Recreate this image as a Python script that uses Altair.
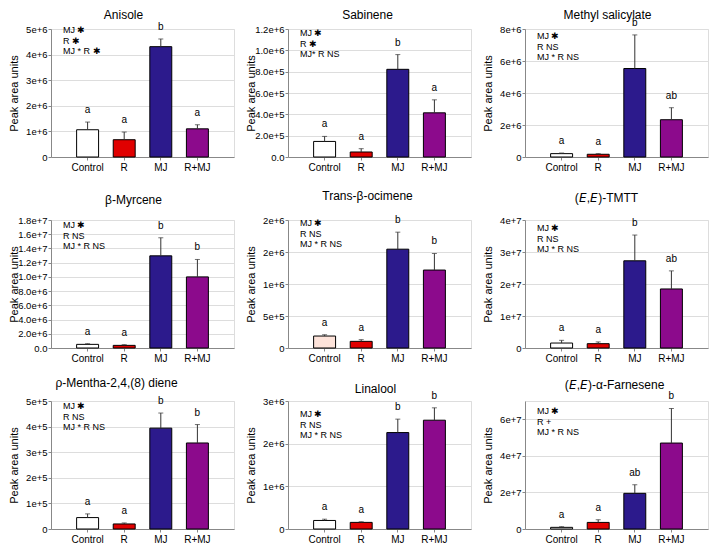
import altair as alt
import pandas as pd

groups = ["Control", "R", "MJ", "R+MJ"]

titles = ["Anisole", "Sabinene", "Methyl salicylate",
          "β-Myrcene", "Trans-β-ocimene", "(𝘌,𝘌)-TMTT",
          "ρ-Mentha-2,4,(8) diene", "Linalool", "(𝘌,𝘌)-α-Farnesene"]

anisole_mean = [1.065e6, 0.675e6, 4.31e6, 1.10e6]
anisole_se = [0.30e6, 0.30e6, 0.30e6, 0.16e6]
sabinene_mean = [1.46e5, 0.47e5, 8.22e5, 4.14e5]
sabinene_se = [0.47e5, 0.31e5, 1.38e5, 1.22e5]
methyl_mean = [0.21e6, 0.17e6, 5.53e6, 2.33e6]
methyl_se = [0.04e6, 0.04e6, 2.10e6, 0.75e6]
myrcene_mean = [0.51e6, 0.37e6, 12.96e6, 10.0e6]
myrcene_se = [0.10e6, 0.10e6, 2.54e6, 2.45e6]
ocimene_mean = [1.87e5, 1.04e5, 1.544e6, 1.218e6]
ocimene_se = [0.20e5, 0.26e5, 0.266e6, 0.259e6]
tmtt_mean = [1.55e6, 1.35e6, 2.725e7, 1.845e7]
tmtt_se = [0.85e6, 0.55e6, 0.805e7, 0.565e7]
mentha_mean = [0.446e5, 0.197e5, 3.94e5, 3.36e5]
mentha_se = [0.144e5, 0.04e5, 0.59e5, 0.72e5]
linalool_mean = [0.20e6, 0.155e6, 2.26e6, 2.55e6]
linalool_se = [0.03e6, 0.015e6, 0.315e6, 0.29e6]
farnesene_mean = [0.9e6, 3.6e6, 1.95e7, 4.70e7]
farnesene_se = [0.36e6, 1.46e6, 0.47e7, 1.89e7]

anisole_letters = ["a", "a", "b", "a"]
sabinene_letters = ["a", "a", "b", "a"]
methyl_letters = ["a", "a", "b", "ab"]
myrcene_letters = ["a", "a", "b", "b"]
ocimene_letters = ["a", "a", "b", "b"]
tmtt_letters = ["a", "a", "b", "ab"]
mentha_letters = ["a", "a", "b", "b"]
linalool_letters = ["a", "a", "b", "b"]
farnesene_letters = ["a", "a", "ab", "b"]

anisole_notes = ["MJ ✱", "R ✱", "MJ * R ✱"]
sabinene_notes = ["MJ ✱", "R  ✱", "MJ* R NS"]
common_notes = ["MJ ✱", "R NS", "MJ * R NS"]
farnesene_notes = ["MJ ✱", "R +", "MJ * R NS"]

y_max = [5e6, 1.2e6, 8e6, 1.8e7, 2e6, 4e7, 5e5, 3e6, 7e7]
y_step = [1e6, 2e5, 2e6, 2e6, 5e5, 1e7, 1e5, 1e6, 2e7]

means = [anisole_mean, sabinene_mean, methyl_mean, myrcene_mean, ocimene_mean,
         tmtt_mean, mentha_mean, linalool_mean, farnesene_mean]
ses = [anisole_se, sabinene_se, methyl_se, myrcene_se, ocimene_se,
       tmtt_se, mentha_se, linalool_se, farnesene_se]
letters = [anisole_letters, sabinene_letters, methyl_letters, myrcene_letters,
           ocimene_letters, tmtt_letters, mentha_letters, linalool_letters,
           farnesene_letters]
notes = [anisole_notes, sabinene_notes, common_notes, common_notes, common_notes,
         common_notes, common_notes, common_notes, farnesene_notes]

# styling
fmts = [".0e", ".1e", ".0e", ".1e", ".0e", ".0e", ".0e", ".0e", ".0e"]
control_fills = ["white", "white", "white", "white", "#fde3da",
                 "white", "white", "white", "white"]
title_dx = [-19, -12, -9, -9, -12, -10, -26, -4, -2]
title_dy = [-14, -14, -14, -20, -24, -22, -18, -12, -16]
note_dy = [1, 4, 7, 5, 3, 8, 5, 13, 10]
R_COL, MJ_COL, RMJ_COL = "#e00000", "#2c1a8c", "#8c0a8c"
FONT = "Liberation Sans"
W, H = 183, 128


def panel(k):
    mean, se = means[k], ses[k]
    df = pd.DataFrame({
        "group": groups,
        "mean": mean,
        "top": [m + s for m, s in zip(mean, se)],
        "letter": letters[k],
        "fill": [control_fills[k], R_COL, MJ_COL, RMJ_COL],
    })
    ticks = []
    t = 0.0
    while t <= y_max[k] * 1.0001:
        ticks.append(t)
        t += y_step[k]
    zero_lbl = "0.0" if fmts[k] == ".1e" else "0"
    x = alt.X("group:N", sort=groups,
              scale=alt.Scale(domain=groups, paddingInner=0.4, paddingOuter=0.7),
              axis=alt.Axis(title=None, labelAngle=0, tickSize=3, labelPadding=2,
                            labelFontSize=10))
    yscale = alt.Scale(domain=[0, y_max[k]], nice=False, zero=True)
    yaxis = alt.Axis(title="Peak area units", values=ticks,
                     labelExpr=f"datum.value == 0 ? '{zero_lbl}' : format(datum.value, '{fmts[k]}')",
                     labelOverlap=False, labelBound=False, labelFlush=False,
                     tickSize=3, labelPadding=1, labelFontSize=9.5,
                     titleFontSize=11, titleFontWeight="normal",
                     titlePadding=0, minExtent=32, maxExtent=32)
    y_mean = alt.Y("mean:Q", scale=yscale, axis=yaxis)
    y_top = alt.Y("top:Q", scale=yscale, axis=yaxis)
    base = alt.Chart(df)
    bars = base.mark_bar(stroke="black", strokeWidth=1).encode(
        x=x, y=y_mean, color=alt.Color("fill:N", scale=None))
    err = base.mark_rule(color="#333333", strokeWidth=1).encode(
        x=x, y=y_mean, y2="top:Q")
    cap = base.mark_tick(size=5, thickness=1, color="#333333").encode(
        x=x, y=y_top)
    lett = base.mark_text(dy=-12, fontSize=10, font=FONT, color="black").encode(
        x=x, y=y_top, text="letter:N")
    ttl = alt.Chart(pd.DataFrame({"t": [titles[k]]})).mark_text(
        align="center", baseline="middle", fontSize=12, font=FONT, color="black"
    ).encode(x=alt.value(W / 2 + title_dx[k]), y=alt.value(title_dy[k]), text="t:N")
    layers = [bars, err, cap, lett, ttl]
    for i, line in enumerate(notes[k]):
        layers.append(
            alt.Chart(pd.DataFrame({"t": [line]})).mark_text(
                align="left", baseline="middle", fontSize=9, font=FONT, color="black"
            ).encode(x=alt.value(12), y=alt.value(note_dy[k] + 10.5 * i), text="t:N"))
    return alt.layer(*layers).properties(width=W, height=H)


rows = [alt.hconcat(*[panel(r * 3 + c) for c in range(3)], spacing=9) for r in range(3)]
chart = alt.vconcat(rows[0], alt.vconcat(rows[1], rows[2], spacing=12), spacing=16).properties(
    padding={"left": -1, "top": 0, "right": 0, "bottom": 0}
).configure_view(stroke=None).configure_axis(
    grid=False, domainColor="black", tickColor="black", labelColor="black",
    titleColor="black", labelFont=FONT, titleFont=FONT
).configure(background="white")

chart.save("out.html", embed_options={"renderer": "svg", "actions": False})
